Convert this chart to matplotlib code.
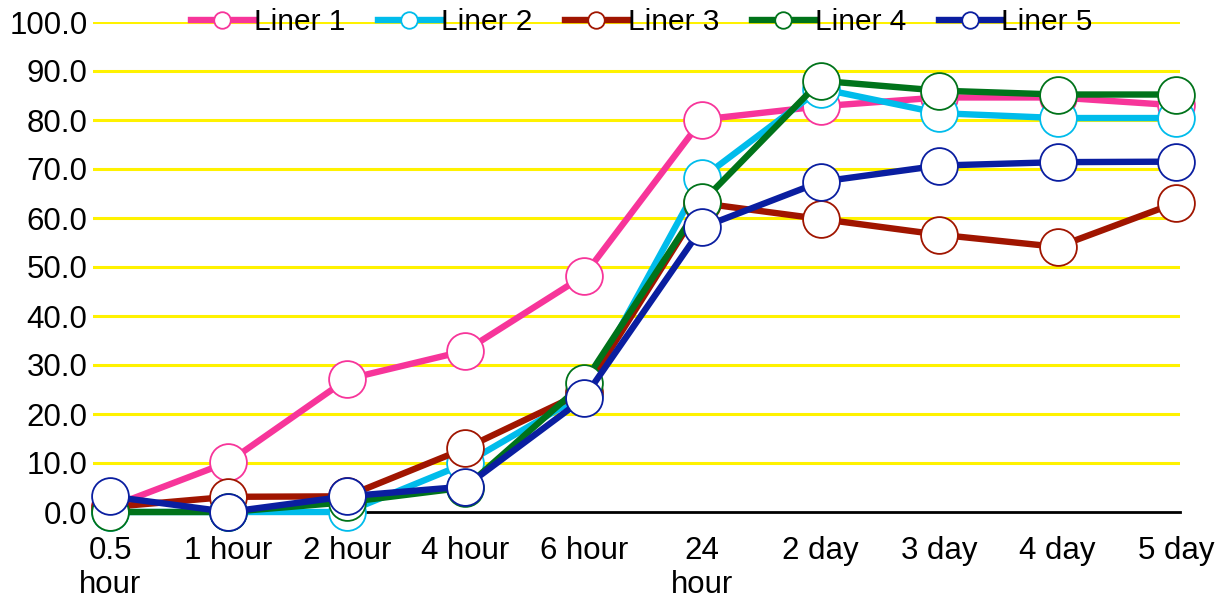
import matplotlib.pyplot as plt
import numpy as np

plt.rcParams['font.family'] = ['Liberation Sans', 'DejaVu Sans']

# categories and series values
timeLabels = ['0.5\nhour', '1 hour', '2 hour', '4 hour', '6 hour', '24\nhour',
              '2 day', '3 day', '4 day', '5 day']
liner1 = [1.0, 10.2, 27.1, 32.9, 48.2, 80.1, 82.8, 84.6, 84.6, 83.0]
liner2 = [0.0, 0.0, 0.0, 9.9, 24.0, 68.2, 86.4, 81.4, 80.4, 80.4]
liner3 = [1.0, 3.1, 3.2, 13.0, 24.5, 63.0, 59.8, 56.6, 54.1, 63.1]
liner4 = [0.0, 0.0, 2.0, 5.0, 26.3, 63.3, 88.0, 86.0, 85.2, 85.2]
liner5 = [3.2, 0.0, 3.2, 5.2, 23.2, 58.1, 67.4, 70.7, 71.4, 71.5]
seriesNames = ['Liner 1', 'Liner 2', 'Liner 3', 'Liner 4', 'Liner 5']
seriesColors = ['#F7359A', '#00BCEB', '#A01500', '#00731A', '#0A1EA0']

fig = plt.figure(figsize=(12.31, 6.01), dpi=100)
ax = fig.add_axes([93/1231, 89/601, 1087/1231, 490/601])

x = np.arange(len(timeLabels))
allSeries = [liner1, liner2, liner3, liner4, liner5]
for vals, name, col in zip(allSeries, seriesNames, seriesColors):
    ax.plot(x, vals, color=col, lw=4.6, marker='o', ms=26.5, mfc='white',
            mec=col, mew=1.3, label=name, clip_on=False)

# yellow gridlines (skip zero, that is the axis line)
for yv in range(10, 101, 10):
    ax.axhline(yv, color='#FFF200', lw=2.2, zorder=0)

ax.set_xlim(-17/118.44, 9 + 4/118.44)
ax.set_ylim(0, 100)
ax.set_yticks(np.arange(0, 101, 10))
ax.set_yticklabels(['%.1f' % v for v in np.arange(0, 101, 10)])
ax.set_xticks(x)
ax.set_xticklabels(timeLabels, linespacing=1.2)
ax.tick_params(axis='both', length=0, labelsize=22.5)
ax.tick_params(axis='y', pad=4)
ax.tick_params(axis='x', pad=17)
for s in ['top', 'right', 'left']:
    ax.spines[s].set_visible(False)
ax.spines['bottom'].set_linewidth(2)
ax.spines['bottom'].set_zorder(1)

ax.legend(loc='center', bbox_to_anchor=(0.505, 1.0), ncol=5, frameon=False,
          fontsize=21.5, handlelength=2.1, handletextpad=0.0, columnspacing=1.1,
          markerscale=0.45)

fig.savefig('out.png', dpi=100)
